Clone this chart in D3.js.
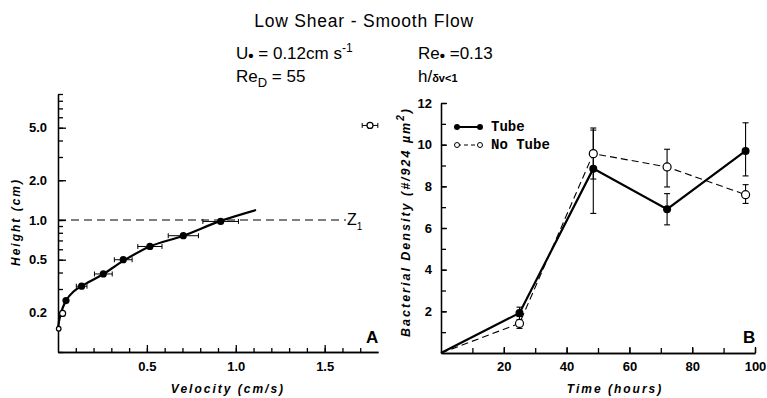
<!DOCTYPE html>
<html><head><meta charset="utf-8">
<script src="https://cdn.jsdelivr.net/npm/d3@7"></script>
<style>
body{margin:0;background:#fff;}
svg{display:block;font-family:"Liberation Sans",Arial,sans-serif;}
.axis path,.axis line{stroke:#000;stroke-width:1.3;}
.axis text{font-family:"Liberation Sans",Arial,sans-serif;font-weight:bold;font-size:13px;fill:#000;}
.lbl{font-family:"Liberation Sans",Arial,sans-serif;font-weight:bold;font-style:italic;font-size:12px;letter-spacing:2px;fill:#000;}
</style></head>
<body><svg id="c" width="767" height="398"></svg>
<script>
// ---------- Panel A data (velocity profile) ----------
const velFilled = [0.045, 0.133, 0.255, 0.367, 0.517, 0.705, 0.915];
const hgtFilled = [0.245, 0.315, 0.39, 0.50, 0.63, 0.76, 0.975];
const velErrFilled = [0.0, 0.03, 0.05, 0.05, 0.068, 0.085, 0.1];
const velOpen = [0.004, 0.026, 1.755];
const hgtOpen = [0.15, 0.196, 5.2];
const velErrOpen = [0, 0.01, 0.044];
const fitVel = [0.0, 0.011, 0.045, 0.086, 0.133, 0.255, 0.367, 0.517, 0.705, 0.911, 1.114];
const fitHgt = [0.149, 0.185, 0.245, 0.286, 0.316, 0.39, 0.49, 0.63, 0.76, 0.98, 1.19];
const z1Height = 1.0, z1VelEnd = 1.62;
const aYLabels = [0.2, 0.5, 1.0, 2.0, 5.0];
const aXLabels = [0.5, 1.0, 1.5];

// ---------- Panel B data (bacterial density) ----------
const timeH = [0, 25, 48.5, 72, 97];
const tube = [0, 1.92, 8.85, 6.9, 9.7];
const tubeLo = [null, 1.6, 6.7, 6.15, 8.5];
const tubeHi = [null, 2.2, 10.8, 7.65, 11.05];
const noTube = [0, 1.42, 9.57, 8.93, 7.6];
const noTubeLo = [null, 1.18, 8.35, 7.97, 7.18];
const noTubeHi = [null, 1.75, 10.7, 9.78, 8.08];
const bYLabels = [2, 4, 6, 8, 10, 12];
const bXLabels = [20, 40, 60, 80, 100];

const svg = d3.select("#c");

// ---------- Header ----------
svg.append("text").attr("x", 364).attr("y", 27).attr("text-anchor", "middle")
  .style("font-size", "17.5px").style("letter-spacing", "0.8px").text("Low Shear - Smooth Flow");
const t1 = svg.append("text").attr("x", 236).attr("y", 59).style("font-size", "17px");
t1.append("tspan").text("U");
t1.append("tspan").attr("dy", 2).style("font-size", "15px").style("font-weight", "bold").text("\u2022");
t1.append("tspan").attr("dy", -2).text(" = 0.12cm  s");
t1.append("tspan").attr("dy", -7).style("font-size", "12px").text("-1");
const t2 = svg.append("text").attr("x", 236).attr("y", 82).style("font-size", "17px");
t2.append("tspan").text("Re");
t2.append("tspan").attr("dy", 5).style("font-size", "13px").text("D");
t2.append("tspan").attr("dy", -5).text(" = 55");
const t3 = svg.append("text").attr("x", 418).attr("y", 59).style("font-size", "17px");
t3.append("tspan").text("Re");
t3.append("tspan").attr("dy", 2).style("font-size", "15px").style("font-weight", "bold").text("\u2022");
t3.append("tspan").attr("dy", -2).text(" =0.13");
const t4 = svg.append("text").attr("x", 418).attr("y", 82).style("font-size", "17px");
t4.append("tspan").text("h/");
t4.append("tspan").style("font-size", "11px").style("font-weight", "bold").text("\u03b4v<1");

// ---------- Panel A ----------
const xA = d3.scaleLinear().domain([0, 1.8]).range([58, 378]);
const yA = d3.scaleLog().domain([0.1, 9]).range([352, 94]);

const aYMinor = [];
[0.1, 1].forEach(d => { for (let k = 1; k <= 9; k++) aYMinor.push(+(d * k).toFixed(2)); });
const aYMinorF = aYMinor.filter(v => v <= 9);
svg.append("g").attr("class", "axis").attr("transform", "translate(58,0)")
  .call(d3.axisLeft(yA).tickValues(aYMinorF).tickSizeInner(-5).tickSizeOuter(0).tickFormat(""));
svg.append("g").attr("class", "axis").attr("transform", "translate(58,0)")
  .call(d3.axisLeft(yA).tickValues(aYLabels).tickSizeInner(-8).tickSizeOuter(0).tickPadding(11)
    .tickFormat(d3.format(".1f")));
const aXMinor = d3.range(1, 18).map(i => +(i * 0.1).toFixed(1));
svg.append("g").attr("class", "axis").attr("transform", "translate(0,352)")
  .call(d3.axisBottom(xA).tickValues(aXMinor).tickSizeInner(-4).tickSizeOuter(0).tickFormat(""));
svg.append("g").attr("class", "axis").attr("transform", "translate(0,352)")
  .call(d3.axisBottom(xA).tickValues(aXLabels).tickSizeInner(-7).tickSizeOuter(0).tickPadding(10)
    .tickFormat(d3.format(".1f")));
svg.selectAll(".axis .domain").attr("stroke-width", 1.5);

// Z1 dashed line
svg.append("line").attr("x1", xA(0)).attr("x2", xA(z1VelEnd)).attr("y1", yA(z1Height)).attr("y2", yA(z1Height))
  .attr("stroke", "#000").attr("stroke-width", 1.1).attr("stroke-dasharray", "8,5");
const zt = svg.append("text").attr("x", 347).attr("y", yA(z1Height) + 5).style("font-size", "16px").attr("fill", "#000");
zt.append("tspan").text("Z");
zt.append("tspan").attr("dy", 5).style("font-size", "10px").attr("fill", "#000").text("1");

// fitted curve
const fit = fitVel.map((v, i) => [v, fitHgt[i]]);
svg.append("path").datum(fit)
  .attr("d", d3.line().x(d => xA(d[0])).y(d => yA(d[1])).curve(d3.curveCatmullRom))
  .attr("fill", "none").attr("stroke", "#000").attr("stroke-width", 2.2);

function hErr(x, y, e) {
  if (!e) return;
  const g = svg.append("g").attr("stroke", "#000").attr("stroke-width", 1);
  g.append("line").attr("x1", xA(x - e)).attr("x2", xA(x + e)).attr("y1", yA(y)).attr("y2", yA(y));
  [x - e, x + e].forEach(v => g.append("line").attr("x1", xA(v)).attr("x2", xA(v))
    .attr("y1", yA(y) - 2.5).attr("y2", yA(y) + 2.5));
}
velFilled.forEach((v, i) => hErr(v, hgtFilled[i], velErrFilled[i]));
velOpen.forEach((v, i) => hErr(v, hgtOpen[i], velErrOpen[i]));
svg.selectAll(".fA").data(velFilled).enter().append("circle")
  .attr("cx", d => xA(d)).attr("cy", (d, i) => yA(hgtFilled[i])).attr("r", 3.6).attr("fill", "#000");
svg.selectAll(".oA").data(velOpen).enter().append("circle")
  .attr("cx", d => xA(d)).attr("cy", (d, i) => yA(hgtOpen[i])).attr("r", (d, i) => i === 0 ? 2.3 : 3)
  .attr("fill", "#fff").attr("stroke", "#000").attr("stroke-width", 1.2);

svg.append("text").attr("class", "lbl").attr("text-anchor", "middle")
  .attr("transform", "translate(20,222) rotate(-90)").text("Height (cm)");
svg.append("text").attr("class", "lbl").attr("text-anchor", "middle").attr("x", 228).attr("y", 393)
  .text("Velocity (cm/s)");
svg.append("text").attr("x", 366).attr("y", 343).style("font-weight", "bold").style("font-size", "17px").text("A");

// ---------- Panel B ----------
const xB = d3.scaleLinear().domain([0, 100]).range([441, 755]);
const yB = d3.scaleLinear().domain([0, 12]).range([353, 103]);
svg.append("g").attr("class", "axis").attr("transform", "translate(441,0)")
  .call(d3.axisLeft(yB).tickValues(d3.range(1, 13)).tickSizeInner(-5).tickSizeOuter(0).tickFormat(""));
svg.append("g").attr("class", "axis").attr("transform", "translate(441,0)")
  .call(d3.axisLeft(yB).tickValues(bYLabels).tickSizeInner(-6).tickSizeOuter(0).tickPadding(9));
svg.append("g").attr("class", "axis").attr("transform", "translate(0,353)")
  .call(d3.axisBottom(xB).tickValues(d3.range(10, 101, 10)).tickSizeInner(-5).tickSizeOuter(0).tickFormat(""));
svg.append("g").attr("class", "axis").attr("transform", "translate(0,353)")
  .call(d3.axisBottom(xB).tickValues(bXLabels).tickSizeInner(-6).tickSizeOuter(0).tickPadding(9));
svg.selectAll(".axis .domain").attr("stroke-width", 1.5);

const lineB = d3.line().x(d => xB(d[0])).y(d => yB(d[1]));
svg.append("path").datum(timeH.map((t, i) => [t, noTube[i]])).attr("d", lineB)
  .attr("fill", "none").attr("stroke", "#000").attr("stroke-width", 1.1).attr("stroke-dasharray", "7,4");
svg.append("path").datum(timeH.map((t, i) => [t, tube[i]])).attr("d", lineB)
  .attr("fill", "none").attr("stroke", "#000").attr("stroke-width", 2.2);

function vErr(t, lo, hi) {
  if (lo === null) return;
  const g = svg.append("g").attr("stroke", "#000").attr("stroke-width", 1.1);
  g.append("line").attr("x1", xB(t)).attr("x2", xB(t)).attr("y1", yB(lo)).attr("y2", yB(hi));
  [lo, hi].forEach(v => g.append("line").attr("x1", xB(t) - 3).attr("x2", xB(t) + 3)
    .attr("y1", yB(v)).attr("y2", yB(v)));
}
timeH.forEach((t, i) => { vErr(t, tubeLo[i], tubeHi[i]); vErr(t, noTubeLo[i], noTubeHi[i]); });

svg.selectAll(".oB").data(timeH.slice(1)).enter().append("circle")
  .attr("cx", d => xB(d)).attr("cy", (d, i) => yB(noTube[i + 1])).attr("r", 4)
  .attr("fill", "#fff").attr("stroke", "#000").attr("stroke-width", 1.2);
svg.selectAll(".fB").data(timeH.slice(1)).enter().append("circle")
  .attr("cx", d => xB(d)).attr("cy", (d, i) => yB(tube[i + 1])).attr("r", 4).attr("fill", "#000");

// legend
const lg = svg.append("g");
lg.append("line").attr("x1", 457).attr("x2", 480).attr("y1", 127).attr("y2", 127).attr("stroke", "#000").attr("stroke-width", 2);
[457, 480].forEach(x => lg.append("circle").attr("cx", x).attr("cy", 127).attr("r", 3).attr("fill", "#000"));
lg.append("line").attr("x1", 457).attr("x2", 480).attr("y1", 145).attr("y2", 145).attr("stroke", "#000")
  .attr("stroke-width", 1).attr("stroke-dasharray", "4,3");
[457, 480].forEach(x => lg.append("circle").attr("cx", x).attr("cy", 145).attr("r", 2.5)
  .attr("fill", "#fff").attr("stroke", "#000").attr("stroke-width", 1));
lg.append("text").attr("x", 491).attr("y", 131).style("font-family", "'Liberation Mono',monospace")
  .style("font-weight", "bold").style("font-size", "14px").text("Tube");
lg.append("text").attr("x", 491).attr("y", 149).style("font-family", "'Liberation Mono',monospace")
  .style("font-weight", "bold").style("font-size", "14px").text("No Tube");

svg.append("text").attr("class", "lbl").attr("text-anchor", "middle").style("font-size", "12.5px")
  .attr("transform", "translate(410,222) rotate(-90)")
  .html("Bacterial Density (#/924 \u00b5m<tspan dy='-6' font-size='10px'>2</tspan><tspan dy='6'>)</tspan>");
svg.append("text").attr("class", "lbl").attr("text-anchor", "middle").attr("x", 615).attr("y", 393)
  .text("Time (hours)");
svg.append("text").attr("x", 743).attr("y", 343).style("font-weight", "bold").style("font-size", "17px").text("B");
</script></body></html>
